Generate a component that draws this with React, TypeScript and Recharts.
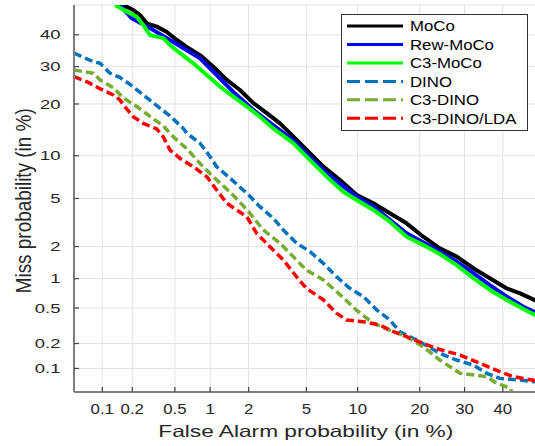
import React from 'react';
import { LineChart, Line, XAxis, YAxis, CartesianGrid, Legend } from 'recharts';

const FONT = '"Liberation Sans", Arial, Helvetica, sans-serif';
const TEXT = '#262626';
const AXIS = '#7f7f7f';

const tickValues = [0.1, 0.2, 0.5, 1, 2, 5, 10, 20, 30, 40];
const tickLabels = ['0.1', '0.2', '0.5', '1', '2', '5', '10', '20', '30', '40'];
const axisMin = 0.05;
const axisMax = 50;

const mocoFA = [0.163, 0.205, 0.238, 0.276, 0.342, 0.42, 0.52, 0.634, 0.824, 1.06, 1.36, 1.72, 2.17, 2.71, 3.35, 3.91, 5.02, 6.37, 7.98, 9.89, 12.1, 14.6, 17.5, 20.7, 24.2, 28.1, 32.2, 36.5, 41.0, 44.8, 50];
const mocoMiss = [50, 48.3, 46.6, 43.8, 42.7, 41.0, 38.3, 36.1, 33.5, 30.0, 26.2, 23.5, 20.2, 17.9, 15.7, 13.8, 10.9, 8.46, 6.84, 5.31, 4.59, 3.83, 3.17, 2.44, 1.93, 1.62, 1.26, 1.01, 0.8, 0.71, 0.58];

const rewFA = [0.151, 0.198, 0.296, 0.451, 0.824, 1.53, 2.17, 4.11, 6.67, 9.89, 12.1, 17.5, 24.2, 28.1, 32.2, 36.5, 41.0, 45.7, 50];
const rewMiss = [50, 45.5, 42.2, 38.3, 32.5, 23.0, 18.6, 12.5, 7.62, 5.16, 4.32, 2.61, 1.8, 1.45, 1.13, 0.86, 0.66, 0.515, 0.43];

const c3mocoFA = [0.135, 0.177, 0.221, 0.256, 0.296, 0.393, 0.451, 0.555, 0.723, 0.937, 1.2, 1.53, 1.94, 2.42, 3.01, 4.11, 5.27, 6.67, 8.33, 9.89, 12.1, 14.6, 17.5, 20.7, 24.2, 28.1, 32.2, 36.5, 41.0, 45.7, 50];
const c3mocoMiss = [50, 47.7, 46.0, 43.2, 39.9, 38.9, 36.7, 34.1, 31.0, 27.6, 24.4, 21.8, 19.4, 17.1, 14.7, 12.0, 9.37, 7.22, 5.62, 4.87, 4.07, 3.27, 2.44, 2.06, 1.71, 1.35, 1.01, 0.77, 0.61, 0.487, 0.4];

const dinoFA = [0.05, 0.0805, 0.095, 0.12, 0.151, 0.19, 0.256, 0.342, 0.451, 0.593, 0.634, 0.824, 1.0, 1.13, 1.44, 1.94, 2.42, 3.01, 3.53, 4.33, 5.27, 6.37, 7.64, 9.07, 10.7, 12.6, 14.6, 16.3, 20.0, 24.2, 28.1, 32.2, 35.7, 39.2, 44.8, 50];
const dinoMiss = [34.1, 31.5, 31.0, 28.1, 26.9, 25.0, 22.2, 19.6, 17.3, 14.7, 13.8, 12.0, 9.85, 8.46, 7.06, 5.47, 4.32, 3.49, 2.79, 2.14, 1.8, 1.4, 1.04, 0.8, 0.66, 0.475, 0.37, 0.273, 0.21, 0.153, 0.127, 0.11, 0.087, 0.075, 0.0715, 0.067];

const c3dinoFA = [0.05, 0.0805, 0.095, 0.13, 0.163, 0.221, 0.296, 0.393, 0.484, 0.634, 0.824, 1.06, 1.44, 1.94, 2.56, 3.35, 4.11, 5.0, 6.37, 7.98, 9.89, 12.1, 14.6, 17.5, 20.7, 24.2, 28.9, 35.7, 38.3, 42.0, 42.5];
const c3dinoMiss = [29.0, 28.1, 26.2, 24.1, 21.5, 19.4, 17.2, 15.2, 13.1, 11.1, 8.9, 7.2, 5.6, 4.1, 2.79, 2.14, 1.62, 1.21, 0.97, 0.69, 0.47, 0.34, 0.285, 0.24, 0.183, 0.127, 0.087, 0.079, 0.065, 0.056, 0.05];

const ldaFA = [0.05, 0.069, 0.095, 0.13, 0.151, 0.177, 0.205, 0.256, 0.342, 0.393, 0.451, 0.555, 0.723, 0.937, 1.13, 1.36, 1.94, 2.29, 2.85, 3.53, 4.33, 5.0, 6.37, 7.64, 8.7, 10.7, 13.1, 14.6, 17.5, 20.7, 24.2, 28.9, 33.9, 39.2, 42.9, 50];
const ldaMiss = [27.1, 25.7, 23.8, 22.2, 21.0, 18.8, 17.1, 15.7, 14.6, 13.1, 10.9, 9.6, 8.46, 7.22, 5.79, 4.59, 3.59, 2.61, 1.99, 1.51, 1.04, 0.8, 0.61, 0.437, 0.37, 0.354, 0.325, 0.285, 0.24, 0.2, 0.17, 0.146, 0.116, 0.091, 0.079, 0.069];

// inverse normal CDF (Acklam), input in percent
function probit(pct: number): number {
  const p = pct / 100;
  const a = [-3.969683028665376e1, 2.209460984245205e2, -2.759285104469687e2, 1.38357751867269e2, -3.066479806614716e1, 2.506628277459239];
  const b = [-5.447609879822406e1, 1.615858368580409e2, -1.556989798598866e2, 6.680131188771972e1, -1.328068155288572e1];
  const c = [-7.784894002430293e-3, -3.223964580411365e-1, -2.400758277161838, -2.549732539343734, 4.374664141464968, 2.938163982698783];
  const d = [7.784695709041462e-3, 3.224671290700398e-1, 2.445134955369566, 3.754408661907416];
  const plow = 0.02425;
  if (p < plow) {
    const q = Math.sqrt(-2 * Math.log(p));
    return (((((c[0] * q + c[1]) * q + c[2]) * q + c[3]) * q + c[4]) * q + c[5]) / ((((d[0] * q + d[1]) * q + d[2]) * q + d[3]) * q + 1);
  }
  if (p <= 1 - plow) {
    const q = p - 0.5;
    const r = q * q;
    return ((((((a[0] * r + a[1]) * r + a[2]) * r + a[3]) * r + a[4]) * r + a[5]) * q) / (((((b[0] * r + b[1]) * r + b[2]) * r + b[3]) * r + b[4]) * r + 1);
  }
  const q = Math.sqrt(-2 * Math.log(1 - p));
  return -(((((c[0] * q + c[1]) * q + c[2]) * q + c[3]) * q + c[4]) * q + c[5]) / ((((d[0] * q + d[1]) * q + d[2]) * q + d[3]) * q + 1);
}

const toPoints = (fa: number[], miss: number[]) => fa.map((f, i) => ({ x: probit(f), y: probit(miss[i]) }));

const series = [
  { name: 'MoCo', pts: toPoints(mocoFA, mocoMiss), color: '#000000', dashed: false },
  { name: 'Rew-MoCo', pts: toPoints(rewFA, rewMiss), color: '#0000ff', dashed: false },
  { name: 'C3-MoCo', pts: toPoints(c3mocoFA, c3mocoMiss), color: '#00ff00', dashed: false },
  { name: 'DINO', pts: toPoints(dinoFA, dinoMiss), color: '#0072bd', dashed: true },
  { name: 'C3-DINO', pts: toPoints(c3dinoFA, c3dinoMiss), color: '#77ac30', dashed: true },
  { name: 'C3-DINO/LDA', pts: toPoints(ldaFA, ldaMiss), color: '#ff0000', dashed: true },
];

const ticksZ = tickValues.map(probit);
const domainZ: [number, number] = [probit(axisMin), probit(axisMax)];

const labelFor = (v: number) => {
  let best = 0;
  ticksZ.forEach((t, i) => {
    if (Math.abs(t - v) < Math.abs(ticksZ[best] - v)) best = i;
  });
  return tickLabels[best];
};

const XTick = (props: any) => {
  const { x, y, payload } = props;
  return (
    <g>
      <line x1={x} x2={x} y1={y} y2={y - 5} stroke="#444" strokeWidth={1.2} />
      <text transform={`translate(${x},${y + 22}) scale(1.12,1)`} textAnchor="middle" fontSize={15} fill={TEXT} fontFamily={FONT}>
        {labelFor(payload.value)}
      </text>
    </g>
  );
};

const YTick = (props: any) => {
  const { x, y, payload } = props;
  return (
    <g>
      <line x1={x} x2={x + 5} y1={y} y2={y} stroke="#444" strokeWidth={1.2} />
      <text transform={`translate(${x - 13.5},${y + 4.6}) scale(1.42,1)`} textAnchor="end" fontSize={13} fill={TEXT} fontFamily={FONT}>
        {labelFor(payload.value)}
      </text>
    </g>
  );
};

const LegendBox = () => (
  <svg width={188} height={118} style={{ display: 'block' }}>
    <rect x={0.5} y={0.5} width={186} height={116} fill="#ffffff" stroke="#333" strokeWidth={1} />
    {series.map((s, i) => {
      const y = 12 + i * 18.46;
      return (
        <g key={s.name}>
          <line x1={6} x2={62} y1={y} y2={y} stroke={s.color} strokeWidth={3} strokeDasharray={s.dashed ? '13 5' : undefined} />
          <text transform={`translate(69,${y + 5.2}) scale(1.2,1)`} fontSize={14} fill="#000" fontFamily={FONT}>
            {s.name}
          </text>
        </g>
      );
    })}
  </svg>
);

const YLabel = () => (
  <text transform="translate(30.5,200.8) rotate(-90) scale(1,1.22)" textAnchor="middle" fontSize={18} fill={TEXT} fontFamily={FONT} textLength={185} lengthAdjust="spacingAndGlyphs">
    Miss probability (in %)
  </text>
);

const XLabel = () => (
  <text x={305.8} y={437.3} textAnchor="middle" fontSize={16.5} fill={TEXT} fontFamily={FONT} textLength={295} lengthAdjust="spacingAndGlyphs">
    False Alarm probability (in %)
  </text>
);

export default function App() {
  return (
    <div style={{ position: 'absolute', left: 0, top: 0, width: 535, height: 446, overflow: 'hidden', background: '#fff' }}>
      <LineChart width={540} height={446} margin={{ top: 5, right: 1.4, left: 0, bottom: 0 }}>
        <CartesianGrid stroke="#e2e2e2" strokeWidth={1} />
        <XAxis
          type="number"
          dataKey="x"
          domain={domainZ}
          ticks={ticksZ}
          interval={0}
          allowDataOverflow
          height={54}
          tickSize={0}
          tickMargin={0}
          tickLine={false}
          axisLine={{ stroke: AXIS, strokeWidth: 2 }}
          tick={<XTick />}
          label={{ content: () => <XLabel /> }}
        />
        <YAxis
          type="number"
          dataKey="y"
          domain={domainZ}
          ticks={ticksZ}
          interval={0}
          allowDataOverflow
          width={74}
          tickSize={0}
          tickMargin={0}
          tickLine={false}
          axisLine={{ stroke: AXIS, strokeWidth: 2 }}
          tick={<YTick />}
          label={{ content: () => <YLabel /> }}
        />
        <Legend
          layout="vertical"
          align="center"
          verticalAlign="middle"
          wrapperStyle={{ position: 'absolute', left: 341, top: 14, width: 188, height: 118 }}
          content={() => <LegendBox />}
        />
        {series.map((s) => (
          <Line
            key={s.name}
            name={s.name}
            data={s.pts}
            dataKey="y"
            type="linear"
            stroke={s.color}
            strokeWidth={s.dashed ? 3.5 : 4}
            strokeDasharray={s.dashed ? '8 4' : undefined}
            strokeLinejoin="round"
            dot={false}
            activeDot={false}
            isAnimationActive={false}
          />
        ))}
      </LineChart>
    </div>
  );
}
